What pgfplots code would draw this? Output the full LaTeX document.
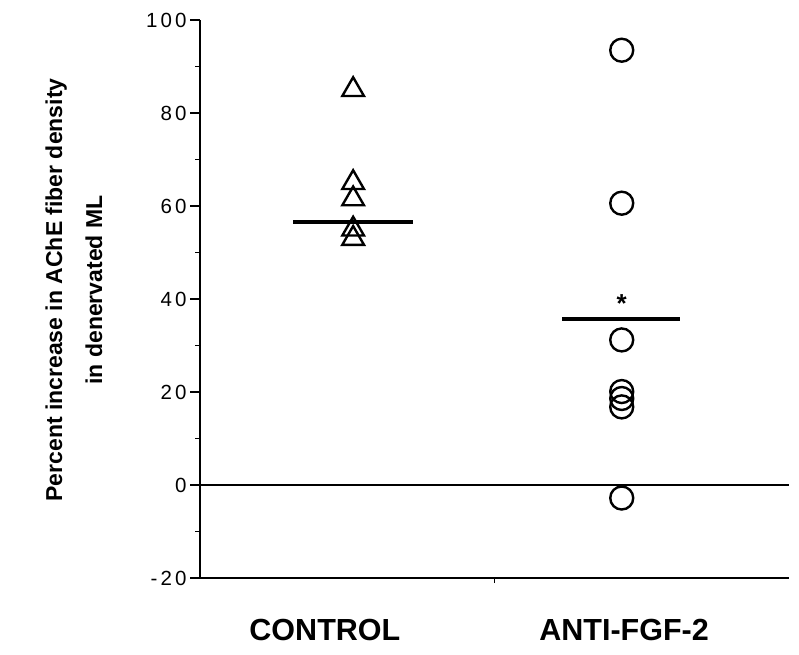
\documentclass[border=0pt]{standalone}
\usepackage{fontspec}
\setmainfont{Liberation Sans}
\newfontfamily\tickfont[LetterSpace=15]{Liberation Sans}
\usepackage{pgfplots}
\pgfplotsset{compat=1.18}
\begin{document}
\begin{tikzpicture}[x=1pt,y=1pt]
\useasboundingbox (0,0) rectangle (799,654);
\begin{axis}[at={(200pt,76pt)}, anchor=south west, scale only axis,
  width=589pt, height=558pt,
  xmin=0, xmax=2, ymin=-20, ymax=100,
  axis lines*=left, axis line style={line width=1.8pt},
  ytick={-20,0,...,100}, minor ytick={-10,10,...,90},
  xtick={1}, xticklabels={},
  tick align=outside,
  ytick style={line width=1.5pt, black},
  minor tick style={line width=1.5pt, black},
  xtick style={line width=1.5pt, black, /pgfplots/major tick length=5pt},
  major tick length=10pt, minor tick length=5pt,
  yticklabel style={font=\tickfont\fontsize{20.5}{20.5}\selectfont},
  /pgf/number format/assume math mode=true,
  clip=false]
\addplot[black, line width=1.4pt] coordinates {(0,0) (2,0)};
\addplot[only marks, mark=triangle, mark size=12.5pt, mark options={line width=2.4pt, black}]
  coordinates {(0.52,85) (0.52,65) (0.52,61.5) (0.52,55) (0.52,53)};
\addplot[only marks, mark=o, mark size=11.5pt, mark options={line width=2.4pt, black}]
  coordinates {(1.432,93.5) (1.432,60.6) (1.432,31.2) (1.432,20.1) (1.432,18.6) (1.432,16.8) (1.432,-2.8)};
\addplot[black, line width=4pt] coordinates {(0.316,56.5) (0.723,56.5)};
\addplot[black, line width=4pt] coordinates {(1.23,35.8) (1.63,35.8)};
\node[font=\bfseries\fontsize{26}{26}\selectfont] at (axis cs:1.432,39) {*};
\node[font=\bfseries\fontsize{30.5}{30.5}\selectfont] at ([yshift=-52pt]axis cs:0.424,-20) {CONTROL};
\node[font=\bfseries\fontsize{30.5}{30.5}\selectfont] at ([yshift=-52pt]axis cs:1.44,-20) {ANTI-FGF-2};
\end{axis}
\node[rotate=90, align=center, font=\bfseries\fontsize{23}{40}\selectfont] at (74,364)
  {Percent increase in AChE fiber density\\in denervated ML};
\end{tikzpicture}
\end{document}
